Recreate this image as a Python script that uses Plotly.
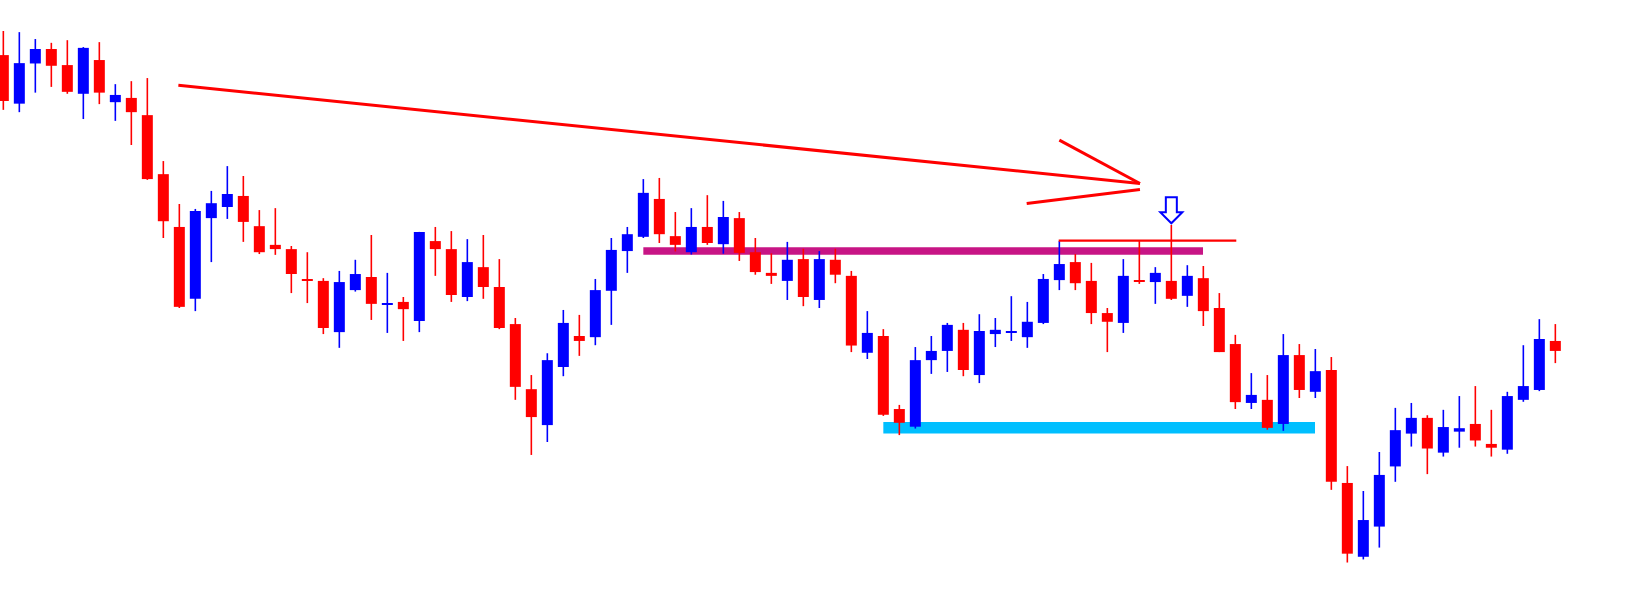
import plotly.graph_objects as go

# ---- candle data (arbitrary price units) ----
opens = [552, 509.7, 544.7, 557.3, 543.3, 518.3, 547.7, 511, 514.7, 499.7,
         448.3, 402.3, 339.7, 410, 419.7, 429.3, 403, 386.7, 383, 356.3,
         355.3, 310.7, 347.3, 358.7, 335, 337, 320.3, 390, 383, 341.3,
         367.3, 350, 317.7, 261, 229.7, 280.3, 307.3, 306.3, 346.7, 381.3,
         393.7, 426.7, 394.3, 380.3, 402.3, 387.3, 410, 380.3, 362.3, 355.3,
         374.3, 338.7, 373.7, 359.7, 292.7, 307.3, 243.7, 228.3, 286.3, 294.3,
         312.7, 273.3, 309, 310, 306.3, 318.7, 356, 371.7, 355.3, 327.3,
         318.7, 355.7, 354.3, 355.3, 342.3, 357.7, 331.7, 300.3, 249, 251.7,
         230.7, 290.7, 258.7, 277.7, 179.3, 115, 141.3, 193.7, 222.3, 236,
         205.7, 224, 230.7, 213.3, 208.3, 251.7, 260.3, 303]
highs = [573, 572, 566, 562.7, 565, 559, 563.3, 526.7, 529.3, 532,
         459.7, 422.3, 418, 433.7, 455.3, 446.7, 417, 418.7, 385.7, 380.3,
         357.7, 364, 373.7, 395.3, 362.3, 341.3, 398, 402.3, 398.7, 391.7,
         395.3, 374.3, 323, 273.3, 292.3, 330, 325.7, 357, 392.7, 402.3,
         444, 445, 415.3, 418.7, 430, 425, 415.3, 392.7, 379.3, 389.3,
         383.3, 381.3, 383.3, 364, 329, 313.3, 247.3, 297.7, 307.3, 318.7,
         318.7, 326.3, 323, 342, 337, 361.3, 390, 378.7, 371, 331.7,
         374.3, 390, 367.3, 404, 369, 368.3, 344.7, 308.3, 275, 273.3,
         309, 300.3, 296, 289, 194, 172.3, 206.3, 244.7, 249, 238.3,
         243, 255, 263.7, 243, 258.7, 299.3, 322, 317.7]
lows = [504.3, 502.3, 519.3, 524.3, 518.3, 496.3, 509.3, 494.7, 473.7, 443.3,
        392.7, 331.7, 329, 371.7, 409.3, 389.3, 378.7, 378, 344.7, 336,
        309, 297, 346, 321.3, 310, 303, 310.7, 359.7, 337, 337.7,
        339.7, 313.3, 251.7, 203.7, 215, 272.3, 290, 299.3, 317, 362.3,
        392.7, 388.3, 381, 378.3, 386.7, 379, 372.7, 360.7, 352.7, 338.7,
        333.3, 331.7, 353.3, 293.3, 287.3, 237.7, 221, 226.7, 274.3, 276,
        272.3, 266.3, 297.7, 303, 297, 317.7, 347.3, 347.3, 317.7, 293.3,
        310, 352.7, 335.3, 338.7, 332.7, 316, 293.3, 243.7, 243.7, 225.7,
        224.7, 253.3, 253.3, 173.3, 110, 112.7, 123, 180.3, 211, 187,
        202.3, 210, 211, 202.3, 204.7, 250, 259.3, 283.7]
closes = [512, 545, 557.3, 542.7, 520, 558.3, 519.3, 517.3, 502.3, 444,
          407.3, 332.7, 416.3, 423, 431, 406.7, 380.3, 383, 361.3, 355.5,
          314.3, 354.3, 361.3, 335.3, 335.5, 330.7, 398, 383, 343, 371.7,
          350, 314.3, 263, 236.7, 286.3, 318.7, 303, 347.3, 382.3, 396,
          432, 396, 386.7, 402.3, 388.3, 411, 379.7, 363, 359.7, 373.7,
          341.3, 374.3, 360.7, 299, 310, 238.7, 231.7, 286.3, 294.3, 317,
          277.7, 311.7, 312.7, 311.7, 319.7, 357, 370, 353.3, 327.3, 319.7,
          359.7, 355, 362.3, 339.7, 359.7, 329, 293.3, 249.7, 256, 227.3,
          290.7, 260.3, 276.7, 180.3, 117.7, 147, 186.3, 225.3, 236, 209.3,
          228, 227, 216.3, 210, 255, 263.7, 304.7, 294.3]

# ---- drawn annotations (candle index, price) ----
trend_line = [(10.94, 525.7), (71.04, 440.2)]
arrow_head_upper = [(66.0, 478.0), (71.04, 440.2)]
arrow_head_lower = [(63.96, 422.7), (71.04, 434.9)]
resistance_thin = [(65.96, 390.4), (77.06, 390.4)]
resistance_zone = [(40.0, 381.4), (74.98, 381.4)]   # magenta
support_zone = [(55.0, 227.4), (81.98, 227.4)]      # cyan
signal_arrow = (73, 405.5)                          # tip of blue down arrow

RED = "#FF0000"
BLUE = "#0000FF"

n = len(opens)
idx = list(range(n))
X_RANGE = [-0.208, 101.854]
Y_RANGE = [77.35, 600.0]
units_per_px = (Y_RANGE[1] - Y_RANGE[0]) / 600.0
min_body = 1.4 * units_per_px

fig = go.Figure()

for color, is_up in ((RED, False), (BLUE, True)):
    sel = [i for i in idx if (closes[i] > opens[i]) == is_up]
    wx, wy = [], []
    for i in sel:
        wx += [i, i, None]
        wy += [lows[i], highs[i], None]
    fig.add_trace(go.Scatter(x=wx, y=wy, mode="lines",
                             line=dict(color=color, width=1.6),
                             hoverinfo="skip"))
    bases, heights = [], []
    for i in sel:
        lo, hi = min(opens[i], closes[i]), max(opens[i], closes[i])
        h = hi - lo
        if h < min_body:
            mid = (hi + lo) / 2
            lo, h = mid - min_body / 2, min_body
        bases.append(lo)
        heights.append(h)
    fig.add_trace(go.Bar(x=sel, y=heights, base=bases, width=0.6875,
                         marker=dict(color=color, line=dict(width=0)),
                         hoverinfo="skip"))

shapes = []
# horizontal zones (below candles)
for (x0, y0), (x1, _), col, thick_px in ((resistance_zone[0], resistance_zone[1], "#C71585", 7.5),
                                         (support_zone[0], support_zone[1], "#00BFFF", 11.7)):
    half = thick_px / 2 * units_per_px
    shapes.append(dict(type="rect", xref="x", yref="y", x0=x0, x1=x1,
                       y0=y0 - half, y1=y0 + half, fillcolor=col,
                       line=dict(width=0), layer="below"))
# red lines
for seg, w in ((trend_line, 3), (arrow_head_upper, 3), (arrow_head_lower, 3),
               (resistance_thin, 2.4)):
    (x0, y0), (x1, y1) = seg
    shapes.append(dict(type="line", xref="x", yref="y", x0=x0, y0=y0, x1=x1, y1=y1,
                       line=dict(color=RED, width=w), layer="above"))
# hollow blue down arrow
ax, ay = signal_arrow
shaft_hw = 5.5 / 16
head_hw = 11 / 16
head_top = ay + 11 * units_per_px
shaft_top = ay + 26 * units_per_px
path = (f"M {ax - shaft_hw},{shaft_top} L {ax + shaft_hw},{shaft_top} "
        f"L {ax + shaft_hw},{head_top} L {ax + head_hw},{head_top} L {ax},{ay} "
        f"L {ax - head_hw},{head_top} L {ax - shaft_hw},{head_top} Z")
shapes.append(dict(type="path", xref="x", yref="y", path=path,
                   fillcolor="white", line=dict(color=BLUE, width=2), layer="above"))

fig.update_layout(
    width=1633, height=600,
    margin=dict(l=0, r=0, t=0, b=0),
    paper_bgcolor="white", plot_bgcolor="white",
    showlegend=False, barmode="overlay",
    xaxis=dict(range=X_RANGE, visible=False, fixedrange=True),
    yaxis=dict(range=Y_RANGE, visible=False, fixedrange=True),
    shapes=shapes,
)

fig.write_html("out.html", config={"displayModeBar": False},
               post_script="document.body.style.margin='0';document.body.style.overflow='hidden';")
